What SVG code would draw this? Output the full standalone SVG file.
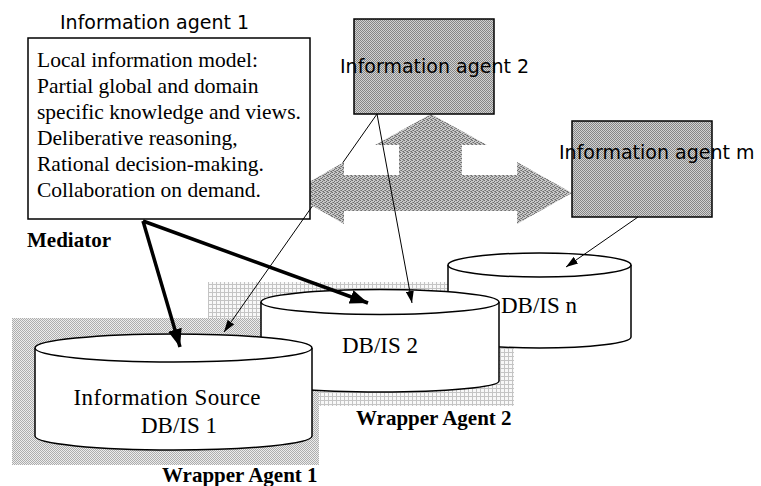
<svg xmlns="http://www.w3.org/2000/svg" width="761" height="486" viewBox="0 0 761 486">
  <defs>
    <!-- fine checker used by the agent boxes -->
    <pattern id="dotBox" width="2" height="2" patternUnits="userSpaceOnUse">
      <rect width="2" height="2" fill="#d2d2d2"/>
      <rect width="1" height="1" fill="#868686"/>
      <rect x="1" y="1" width="1" height="1" fill="#868686"/>
    </pattern>
    <!-- coarser checker used by the communication arrow -->
    <pattern id="dotArrow" width="4" height="4" patternUnits="userSpaceOnUse">
      <rect width="4" height="4" fill="#c8c8c8"/>
      <rect width="1" height="1" fill="#6e6e6e"/>
      <rect x="2" y="1" width="1" height="1" fill="#6e6e6e"/>
      <rect x="1" y="2" width="1" height="1" fill="#6e6e6e"/>
      <rect x="3" y="3" width="1" height="1" fill="#6e6e6e"/>
      <rect x="2" y="3" width="1" height="1" fill="#8e8e8e"/>
      <rect x="0" y="2" width="1" height="1" fill="#8e8e8e"/>
      <rect x="3" y="0" width="1" height="1" fill="#8e8e8e"/>
    </pattern>
    <!-- dense light shading of wrapper 1 -->
    <pattern id="dotWrap1" width="2" height="2" patternUnits="userSpaceOnUse">
      <rect width="2" height="2" fill="#ececec"/>
      <rect width="1" height="1" fill="#adadad"/>
      <rect x="1" y="1" width="1" height="1" fill="#adadad"/>
    </pattern>
    <!-- grid shading of wrapper 2 -->
    <pattern id="gridWrap2" width="4" height="4" patternUnits="userSpaceOnUse">
      <rect width="4" height="4" fill="#f8f8f8"/>
      <rect width="4" height="1" fill="#c4c4c4"/>
      <rect width="1" height="4" fill="#c4c4c4"/>
    </pattern>
    <marker id="thin" viewBox="0 0 12 8" refX="12" refY="4" markerWidth="12" markerHeight="8" markerUnits="userSpaceOnUse" orient="auto">
      <path d="M0,0 L12,4 L0,8 Z" fill="#000"/>
    </marker>
    <marker id="thick" viewBox="0 0 18 14" refX="18" refY="7" markerWidth="18" markerHeight="14" markerUnits="userSpaceOnUse" orient="auto">
      <path d="M0,0 L18,7 L0,14 Z" fill="#000"/>
    </marker>
  </defs>
  <style>
    .serif { font-family: "Liberation Serif", "Times New Roman", serif; fill: #000; }
    .sans { font-family: "DejaVu Sans", Verdana, sans-serif; fill: #000; }
    .bold { font-weight: bold; font-size: 21px; }
    .cyl { fill: #fff; stroke: #000; stroke-width: 1.5; }
    .box { stroke: #000; stroke-width: 1.5; }
    .thin { fill: none; stroke: #000; stroke-width: 1; marker-end: url(#thin); }
    .thick { fill: none; stroke: #000; stroke-width: 3.5; marker-end: url(#thick); }
  </style>

  <rect width="761" height="486" fill="#fff"/>

  <!-- wrapper agent 2 -->
  <g id="wrapper-agent-2">
    <rect x="208" y="282" width="306" height="124" fill="url(#gridWrap2)" shape-rendering="crispEdges"/>
    <text class="serif bold" x="356" y="425">Wrapper Agent 2</text>
  </g>

  <!-- DB/IS n -->
  <g id="db-is-n">
    <path class="cyl" d="M448,265 L448,337 A91.5,11 0 0 0 631,337 L631,265"/>
    <ellipse class="cyl" cx="539.5" cy="265" rx="91.5" ry="12"/>
    <text class="serif" x="501" y="313" font-size="23">DB/IS n</text>
  </g>

  <!-- wrapper agent 1 -->
  <g id="wrapper-agent-1">
    <rect x="12" y="318" width="307" height="147" fill="url(#dotWrap1)" shape-rendering="crispEdges"/>
    <text class="serif bold" x="162" y="482">Wrapper Agent 1</text>
  </g>

  <!-- DB/IS 2 -->
  <g id="db-is-2">
    <path class="cyl" d="M261,302 L261,381 A119,11 0 0 0 499,381 L499,302"/>
    <ellipse class="cyl" cx="380" cy="302" rx="119" ry="12.5"/>
    <text class="serif" x="380" y="353" font-size="23" text-anchor="middle">DB/IS 2</text>
  </g>

  <!-- information source DB/IS 1 -->
  <g id="db-is-1">
    <path class="cyl" d="M35,348 L35,436 A138.5,14 0 0 0 312,436 L312,348"/>
    <ellipse class="cyl" cx="173.5" cy="348" rx="138.5" ry="14"/>
    <text class="serif" x="167" y="405" font-size="23" text-anchor="middle" textLength="187">Information Source</text>
    <text class="serif" x="179" y="433" font-size="23" text-anchor="middle">DB/IS 1</text>
  </g>

  <!-- three-way communication arrow -->
  <g id="communication-arrow">
    <polygon fill="url(#dotArrow)" points="290,193 344,162 344,175 399,175 399,145 375,145 431,114 487,145 462,145 462,175 517,175 517,162 572,193 517,224 517,211 344,211 344,224"/>
  </g>

  <!-- information agent 1 -->
  <g id="information-agent-1">
    <text class="sans" x="60" y="29" font-size="19">Information agent 1</text>
    <rect class="box" x="28" y="38" width="282" height="181" fill="#fff"/>
    <text class="serif" font-size="21.5">
      <tspan x="37" y="67">Local information model:</tspan>
      <tspan x="37" y="93">Partial global and domain</tspan>
      <tspan x="37" y="119">specific knowledge and views.</tspan>
      <tspan x="37" y="145">Deliberative reasoning,</tspan>
      <tspan x="37" y="171">Rational decision-making.</tspan>
      <tspan x="37" y="197">Collaboration on demand.</tspan>
    </text>
    <text class="serif bold" x="27" y="247">Mediator</text>
  </g>

  <!-- information agent 2 -->
  <g id="information-agent-2">
    <rect class="box" x="354" y="19" width="140" height="95" fill="url(#dotBox)"/>
    <text class="sans" x="340" y="73" font-size="19">Information agent 2</text>
  </g>

  <!-- information agent m -->
  <g id="information-agent-m">
    <rect class="box" x="572" y="121" width="140" height="96" fill="url(#dotBox)"/>
    <text class="sans" x="559" y="159" font-size="19">Information agent m</text>
  </g>

  <!-- connectors -->
  <g id="connectors">
    <path class="thin" d="M377,114 L342.8,162.7 M312.5,205.9 L224,332"/>
    <path class="thin" d="M377,114 L412,303"/>
    <path class="thin" d="M638,217 L566,267"/>
    <path class="thick" d="M143,221 L180,347"/>
    <path class="thick" d="M143,221 L368,303"/>
  </g>
</svg>
